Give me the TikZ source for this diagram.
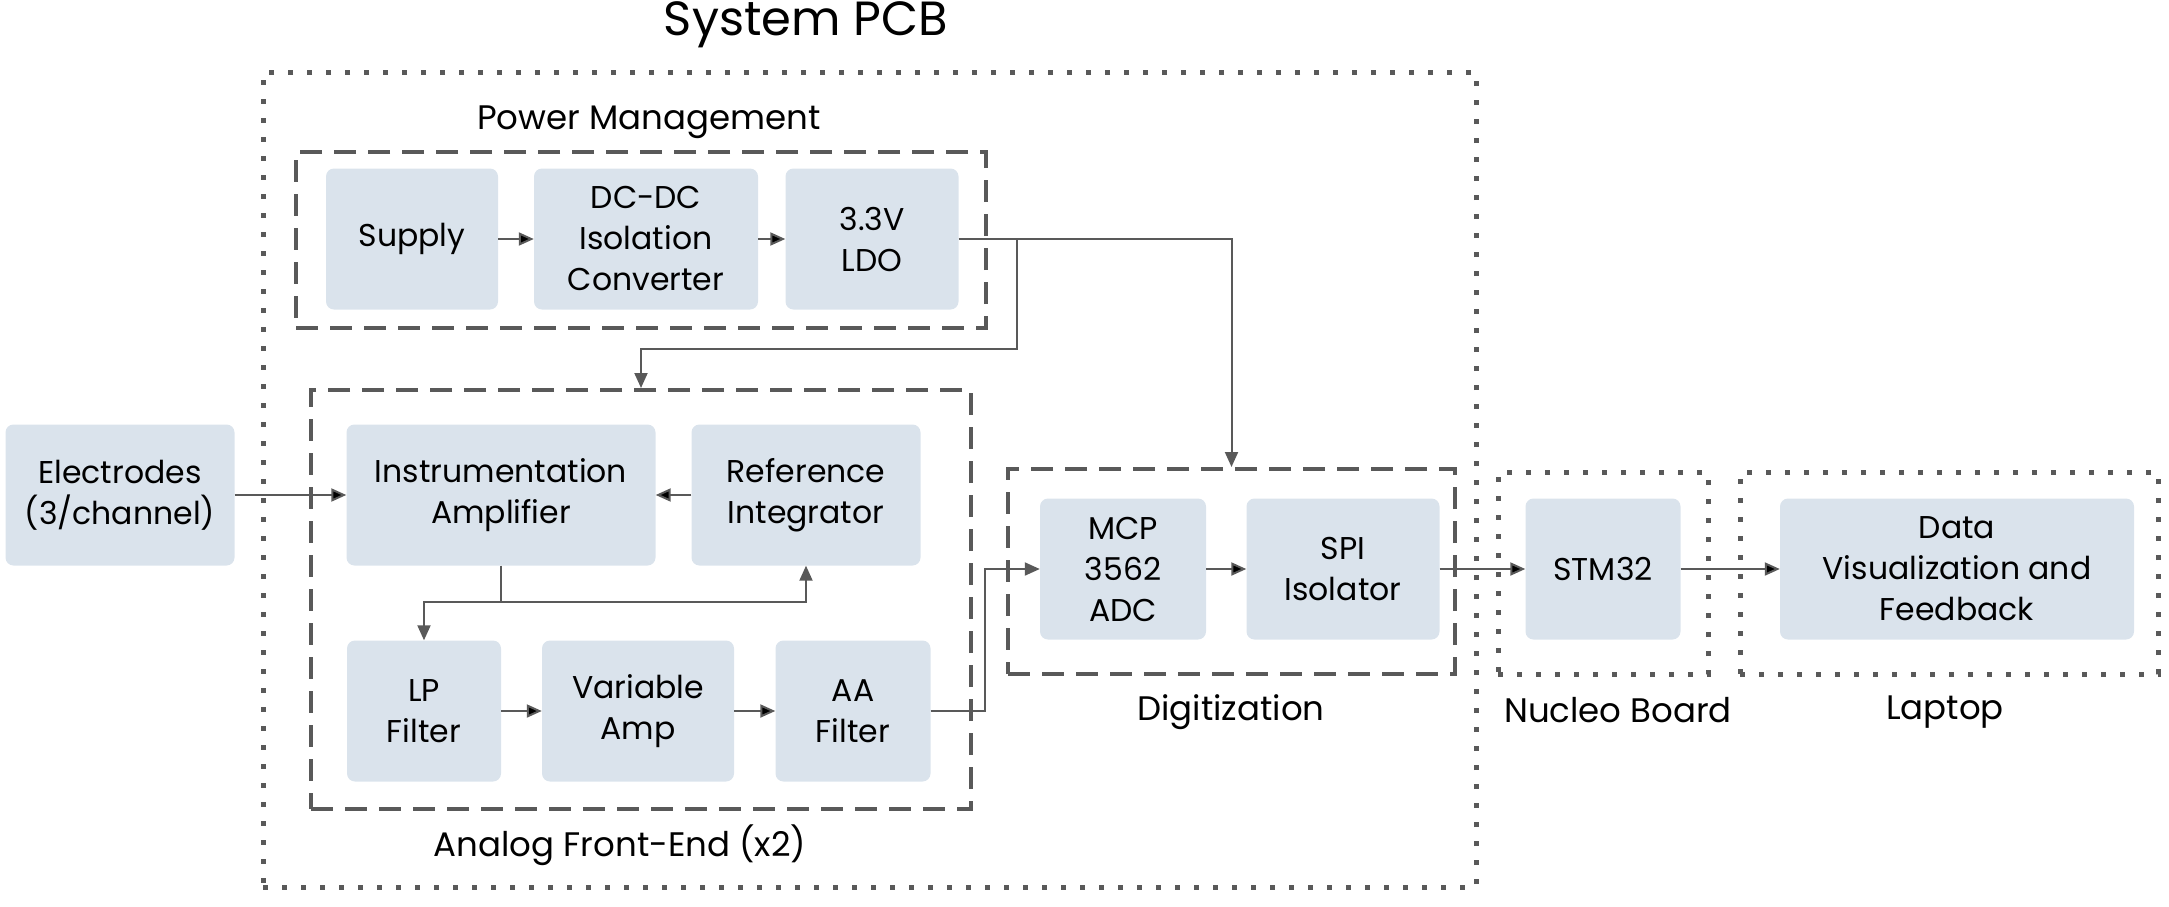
\documentclass[tikz,border=0pt]{standalone}
\usepackage{fontspec}
\setmainfont{Poppins}
\usetikzlibrary{positioning,arrows.meta}
\definecolor{boxfill}{HTML}{DAE3EC}
\definecolor{linegray}{HTML}{595959}

\begin{document}
\begin{tikzpicture}[>={Triangle[length=15pt,width=13pt]},x=1pt,y=-1pt,
  block/.style={fill=boxfill,rounded corners=8pt,minimum height=141pt,align=center,inner sep=2pt,font=\fontsize{31.5}{41}\selectfont},
  conn/.style={draw=linegray,line width=2pt},
  dotbox/.style={draw=linegray,line width=5pt,dash pattern=on 5pt off 14pt,inner sep=0pt},
  dashbox/.style={draw=linegray,line width=4pt,dash pattern=on 22pt off 12pt,inner sep=0pt},
  lbl/.style={font=\fontsize{34}{40}\selectfont}]

    \useasboundingbox (0,0) rectangle (2169,906);

    % The frames
	\node [dotbox,minimum width=1213pt,minimum height=815pt] at (869.5,479.5) (pcb) {};
	\node [dashbox,minimum width=690pt,minimum height=176pt] at (641,240) (pm) {};
	\node [dashbox,minimum width=660pt,minimum height=419pt] at (641,599.5) (afe) {};
	\node [dashbox,minimum width=447pt,minimum height=205pt] at (1231.5,571.5) (dig) {};
	\node [dotbox,minimum width=210pt,minimum height=202pt] at (1603,573) (nuc) {};
	\node [dotbox,minimum width=418pt,minimum height=202pt] at (1949,573) (lap) {};

	% Frame labels
	\node [font=\fontsize{48}{54}\selectfont] at (806,25) (tpcb) {System PCB};
	\node [lbl] at (649,122) (tpm) {Power Management};
	\node [lbl] at (620,845) (tafe) {Analog Front-End (x2)};
	\node [lbl] at (1231,712) (tdig) {Digitization};
	\node [lbl] at (1618,710) (tnuc) {Nucleo Board};
	\node [lbl] at (1945,712) (tlap) {Laptop};

    % The blocks
	\node [block,minimum width=172pt] at (412,239) (sup) {Supply};
	\node [block,minimum width=224pt] at (646,239) (dcdc) {DC-DC\\Isolation\\Converter};
	\node [block,minimum width=173pt] at (872,239) (ldo) {3.3V\\LDO};
	\node [block,minimum width=229pt] at (120,495) (el) {Electrodes\\(3/channel)};
	\node [block,minimum width=309pt] at (501,495) (ia) {Instrumentation\\Amplifier};
	\node [block,minimum width=229pt] at (806,495) (ri) {Reference\\Integrator};
	\node [block,minimum width=154pt] at (424,711) (lp) {LP\\Filter};
	\node [block,minimum width=192pt] at (638,711) (va) {Variable\\Amp};
	\node [block,minimum width=155pt] at (853,711) (aa) {AA\\Filter};
	\node [block,minimum width=166pt] at (1123,569) (mcp) {MCP\\3562\\ADC};
	\node [block,minimum width=193pt] at (1343,569) (spi) {SPI\\Isolator};
	\node [block,minimum width=155pt] at (1603,569) (stm) {STM32};
	\node [block,minimum width=354pt] at (1957,569) (vis) {Data\\Visualization and\\Feedback};

	% Block edges
	\path[->,conn]
	(sup) edge (dcdc)
	(dcdc) edge (ldo)
	(el) edge (ia)
	(ri) edge (ia)
	(lp) edge (va)
	(va) edge (aa)
	(mcp) edge (spi)
	(spi) edge (stm)
	(stm) edge (vis);

	% Supply and signal routing
	\coordinate (split) at (1017,239);
	\draw[->,conn] (ldo.east) -| (dig.north);
	\draw[->,conn] (split) -- ++(0,110) -| (afe.north);
	\draw[conn] (ia.south) -- ++(0,36) coordinate (tap);
	\draw[->,conn] (tap) -| (ri.south);
	\draw[->,conn] (tap) -| (lp.north);
	\draw[->,conn] (aa.east) -- ++(54,0) |- (mcp.west);

\end{tikzpicture}
\end{document}
